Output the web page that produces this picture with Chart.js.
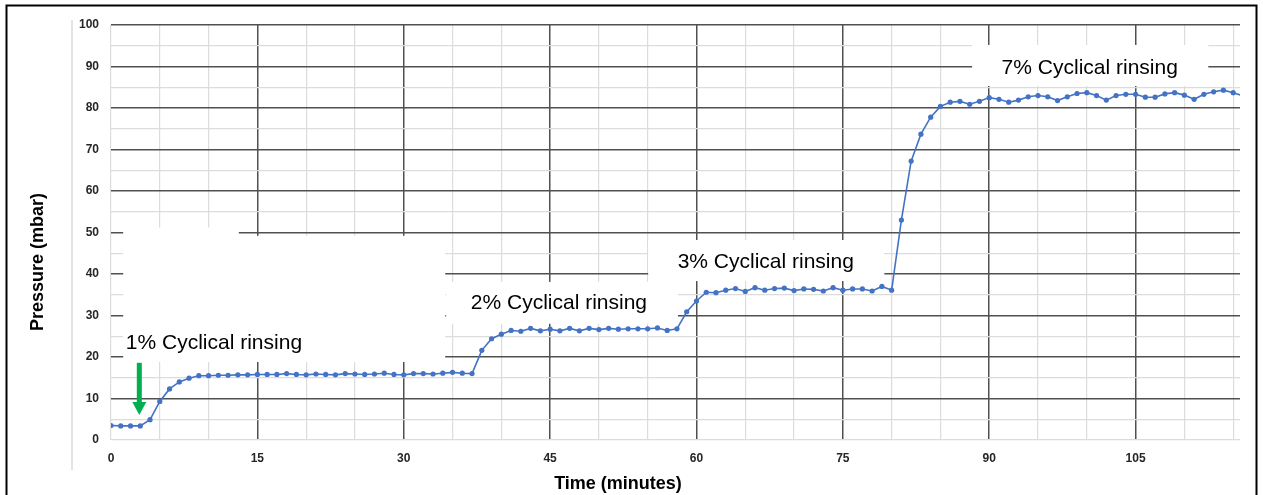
<!DOCTYPE html>
<html>
<head>
<meta charset="utf-8">
<script src="https://cdn.jsdelivr.net/npm/chart.js@4.4.1/dist/chart.umd.min.js"></script>
<style>
  html, body { margin: 0; padding: 0; background: #fff; }
  #wrap { width: 1263px; height: 495px; position: relative; }
</style>
</head>
<body>
<div id="wrap"><canvas id="grafica" width="1263" height="495"></canvas></div>
<script>
// Tiempo (minutos) y presión (mbar), un punto por minuto
const tiempo = [
  0, 1, 2, 3, 4, 5, 6, 7, 8, 9, 10, 11, 12, 13, 14, 15, 16, 17, 18, 19,
  20, 21, 22, 23, 24, 25, 26, 27, 28, 29, 30, 31, 32, 33, 34, 35, 36, 37, 38, 39,
  40, 41, 42, 43, 44, 45, 46, 47, 48, 49, 50, 51, 52, 53, 54, 55, 56, 57, 58, 59,
  60, 61, 62, 63, 64, 65, 66, 67, 68, 69, 70, 71, 72, 73, 74, 75, 76, 77, 78, 79,
  80, 81, 82, 83, 84, 85, 86, 87, 88, 89, 90, 91, 92, 93, 94, 95, 96, 97, 98, 99,
  100, 101, 102, 103, 104, 105, 106, 107, 108, 109, 110, 111, 112, 113, 114, 115, 116
];
const presion = [
  3.5, 3.4, 3.4, 3.4, 4.9, 9.3, 12.3, 14.0, 14.9, 15.5, 15.5, 15.6, 15.6, 15.7, 15.7, 15.8, 15.8, 15.8, 16.0, 15.8,
  15.7, 15.9, 15.8, 15.7, 16.0, 15.9, 15.8, 15.9, 16.1, 15.8, 15.7, 16.0, 16.0, 15.9, 16.1, 16.3, 16.1, 16.0, 21.6, 24.4,
  25.5, 26.4, 26.2, 26.9, 26.3, 26.7, 26.3, 26.9, 26.3, 26.9, 26.6, 26.9, 26.7, 26.8, 26.8, 26.8, 27.0, 26.4, 26.8, 30.9,
  33.5, 35.6, 35.5, 36.1, 36.5, 35.8, 36.7, 36.1, 36.5, 36.6, 36.0, 36.4, 36.3, 35.9, 36.7, 36.1, 36.4, 36.4, 35.9, 37.0,
  36.1, 53.0, 67.2, 73.7, 77.8, 80.4, 81.4, 81.6, 80.9, 81.6, 82.5, 82.1, 81.4, 81.9, 82.7, 83.0, 82.7, 81.8, 82.7, 83.5,
  83.7, 83.0, 81.9, 83.0, 83.3, 83.3, 82.6, 82.6, 83.4, 83.7, 83.1, 82.1, 83.3, 83.9, 84.3, 83.7, 82.9
];
const ticksX = [0, 5, 10, 15, 20, 25, 30, 35, 40, 45, 50, 55, 60, 65, 70, 75, 80, 85, 90, 95, 100, 105, 110, 115];
const ticksY = [0, 5, 10, 15, 20, 25, 30, 35, 40, 45, 50, 55, 60, 65, 70, 75, 80, 85, 90, 95, 100];
const etiquetas = ['1% Cyclical rinsing', '2% Cyclical rinsing', '3% Cyclical rinsing', '7% Cyclical rinsing'];
const tituloX = 'Time (minutes)';
const tituloY = 'Pressure (mbar)';

// cajas blancas que tapan la cuadrícula detrás de los textos (en unidades de datos)
const cajas = [
  { x0: 1.25, x1: 34.25, y0: 49.2, y1: 18.8 },
  { x0: 1.25, x1: 13.1, y0: 51.2, y1: 49.1 },
  { x0: 34.35, x1: 58.1, y0: 38.1, y1: 28.0 },
  { x0: 55.05, x1: 79.25, y0: 48.2, y1: 38.3 },
  { x0: 88.25, x1: 112.45, y0: 95.2, y1: 85.3 }
];
const posTextos = [
  { x: 10.55, y: 23.4 },
  { x: 45.9, y: 33.0 },
  { x: 67.1, y: 42.9 },
  { x: 100.3, y: 89.6 }
];
const flecha = { x: 2.9, desde: 18.6, hasta: 6.0 };

const datos = tiempo.map((t, i) => ({ x: t, y: presion[i] }));

const fuente = '"Liberation Sans", Arial, sans-serif';

const decoracion = {
  id: 'decoracion',
  beforeDatasetsDraw(chart) {
    const { ctx, scales: { x, y } } = chart;
    ctx.save();
    ctx.fillStyle = '#ffffff';
    cajas.forEach(c => {
      const x0 = x.getPixelForValue(c.x0), x1 = x.getPixelForValue(c.x1);
      const y0 = y.getPixelForValue(c.y0), y1 = y.getPixelForValue(c.y1);
      ctx.fillRect(x0, y0, x1 - x0, y1 - y0);
    });
    ctx.restore();
  },
  afterDatasetsDraw(chart) {
    const { ctx, scales: { x, y } } = chart;
    ctx.save();
    ctx.fillStyle = '#000';
    ctx.font = '21px ' + fuente;
    ctx.textAlign = 'center';
    ctx.textBaseline = 'middle';
    etiquetas.forEach((txt, i) => {
      ctx.fillText(txt, x.getPixelForValue(posTextos[i].x), y.getPixelForValue(posTextos[i].y));
    });
    // flecha verde
    const fx = x.getPixelForValue(flecha.x);
    const fy0 = y.getPixelForValue(flecha.desde);
    const fy1 = y.getPixelForValue(flecha.hasta);
    ctx.fillStyle = '#00b050';
    ctx.fillRect(fx - 2.5, fy0, 5, fy1 - 13 - fy0);
    ctx.beginPath();
    ctx.moveTo(fx - 7, fy1 - 13);
    ctx.lineTo(fx + 7, fy1 - 13);
    ctx.lineTo(fx, fy1);
    ctx.closePath();
    ctx.fill();
    ctx.restore();
  },
  afterDraw(chart) {
    const ctx = chart.ctx;
    ctx.save();
    // títulos de los ejes (desplazados como en la imagen original)
    ctx.fillStyle = '#000';
    ctx.font = 'bold 18px ' + fuente;
    ctx.textAlign = 'center';
    ctx.textBaseline = 'middle';
    ctx.fillText(tituloX, 618, 484);
    ctx.translate(38, 262);
    ctx.rotate(-Math.PI / 2);
    ctx.fillText(tituloY, 0, 0);
    ctx.setTransform(1, 0, 0, 1, 0, 0);
    // línea gris clara a la izquierda de las etiquetas
    ctx.strokeStyle = '#e4e4e4';
    ctx.lineWidth = 2;
    ctx.beginPath();
    ctx.moveTo(72, 20);
    ctx.lineTo(72, 470);
    ctx.stroke();
    // marco negro
    ctx.strokeStyle = '#000';
    ctx.lineWidth = 2;
    ctx.strokeRect(6.5, 5.5, 1250, 500);
    ctx.restore();
  }
};

const ctxGrafica = document.getElementById('grafica').getContext('2d');
new Chart(ctxGrafica, {
  type: 'line',
  data: {
    datasets: [{
      label: 'Pressure',
      data: datos,
      borderColor: '#4472c4',
      backgroundColor: '#4472c4',
      borderWidth: 1.6,
      pointRadius: 2.6,
      pointBorderWidth: 0,
      pointBackgroundColor: '#4472c4',
      tension: 0
    }]
  },
  options: {
    responsive: false,
    animation: false,
    devicePixelRatio: 1,
    layout: { padding: { left: 23, right: 23, top: 25, bottom: 2 } },
    plugins: { legend: { display: false }, tooltip: { enabled: false } },
    scales: {
      x: {
        type: 'linear',
        min: 0,
        max: 115.7,
        afterBuildTicks: s => { s.ticks = ticksX.map(v => ({ value: v })); },
        afterFit: s => { s.height = 53; },
        border: { display: false },
        grid: {
          drawTicks: false,
          color: c => (c.tick && c.tick.value % 15 === 0 && c.tick.value !== 0) ? '#505050' : '#dcdcdc',
          lineWidth: c => (c.tick && c.tick.value % 15 === 0 && c.tick.value !== 0) ? 1.5 : 1.2
        },
        ticks: {
          padding: 11,
          maxRotation: 0,
          autoSkip: false,
          color: '#262626',
          font: { family: fuente, size: 12, weight: 'bold' },
          callback: v => (v % 15 === 0 ? String(v) : '')
        }
      },
      y: {
        min: 0,
        max: 100,
        afterBuildTicks: s => { s.ticks = ticksY.map(v => ({ value: v })); },
        afterFit: s => { s.width = 88; },
        border: { display: false },
        grid: {
          drawTicks: false,
          color: c => (c.tick && c.tick.value % 10 === 0 && c.tick.value !== 0) ? '#505050' : '#dcdcdc',
          lineWidth: c => (c.tick && c.tick.value % 10 === 0 && c.tick.value !== 0) ? 1.5 : 1.2
        },
        ticks: {
          padding: 12,
          autoSkip: false,
          color: '#262626',
          font: { family: fuente, size: 12, weight: 'bold' },
          callback: v => (v % 10 === 0 ? String(v) : '')
        }
      }
    }
  },
  plugins: [decoracion]
});
</script>
</body>
</html>
